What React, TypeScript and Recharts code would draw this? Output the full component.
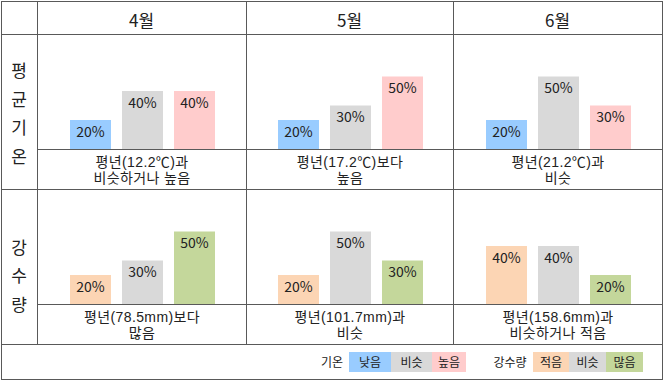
import React from 'react';
import { BarChart, Bar, XAxis, YAxis, Cell, LabelList } from 'recharts';

const months = ['4월', '5월', '6월'];
const tempCategories = ['낮음', '비슷', '높음'];
const precipCategories = ['적음', '비슷', '많음'];
const tempValues = [
  [20, 40, 40],
  [20, 30, 50],
  [20, 50, 30],
];
const precipValues = [
  [20, 30, 50],
  [20, 50, 30],
  [40, 40, 20],
];
const tempCaptions = [
  ['평년(12.2℃)과', '비슷하거나 높음'],
  ['평년(17.2℃)보다', '높음'],
  ['평년(21.2℃)과', '비슷'],
];
const precipCaptions = [
  ['평년(78.5mm)보다', '많음'],
  ['평년(101.7mm)과', '비슷'],
  ['평년(158.6mm)과', '비슷하거나 적음'],
];
const rowLabelTemp = ['평', '균', '기', '온'];
const rowLabelPrecip = ['강', '수', '량'];

const tempColors = ['#99CCFF', '#D9D9D9', '#FFCCCC'];
const precipColors = ['#FCD5B4', '#D9D9D9', '#C4D79B'];

const FONT = '"Noto Sans CJK KR", "Noto Sans", sans-serif';
const CAPFONT = '"Liberation Sans", "Noto Sans CJK KR", sans-serif';
const LINE = '#595959';
const cellLefts = [37, 246, 453, 662];

function Mini({ cats, vals, colors, left, top }: { cats: string[]; vals: number[]; colors: string[]; left: number; top: number }) {
  const data = cats.map((c, i) => ({ name: c, value: vals[i] }));
  return (
    <div style={{ position: 'absolute', left, top, width: 156, height: 116 }}>
      <BarChart width={156} height={116} data={data} margin={{ top: 0, right: 0, bottom: 0, left: 0 }}>
        <XAxis dataKey="name" hide />
        <YAxis hide domain={[0, 80]} />
        <Bar dataKey="value" barSize={41} isAnimationActive={false}>
          {data.map((d, i) => (
            <Cell key={d.name} fill={colors[i]} />
          ))}
          <LabelList
            dataKey="value"
            position="insideTop"
            offset={7}
            formatter={(v: any) => `${v}%`}
            fill="#222"
            fontSize={14}
            fontFamily={FONT}
          />
        </Bar>
      </BarChart>
    </div>
  );
}

function HLine({ x1, x2, y }: { x1: number; x2: number; y: number }) {
  return <div style={{ position: 'absolute', left: x1, top: y, width: x2 - x1 + 1, height: 1, background: LINE }} />;
}
function VLine({ x, y1, y2 }: { x: number; y1: number; y2: number }) {
  return <div style={{ position: 'absolute', left: x, top: y1, width: 1, height: y2 - y1 + 1, background: LINE }} />;
}

function Caption({ lines, cx, cy }: { lines: string[]; cx: number; cy: number }) {
  return (
    <>
      {lines.map((l, i) => (
        <div
          key={l}
          style={{
            position: 'absolute',
            left: cx - 100,
            top: cy - 16 + i * 16,
            width: 200,
            height: 16,
            textAlign: 'center',
            fontSize: 14,
            lineHeight: '16px',
            letterSpacing: 0.4,
            fontFamily: CAPFONT,
            color: '#222',
            whiteSpace: 'nowrap',
          }}
        >
          {l}
        </div>
      ))}
    </>
  );
}

function CharAt({ ch, cx, cy, size }: { ch: string; cx: number; cy: number; size: number }) {
  return (
    <div
      style={{
        position: 'absolute',
        left: cx - 20,
        top: cy - 12,
        width: 40,
        height: 24,
        lineHeight: '24px',
        textAlign: 'center',
        fontSize: size,
        fontFamily: FONT,
        color: '#222',
      }}
    >
      {ch}
    </div>
  );
}

const legendTemp = [
  { x1: 349, x2: 391 },
  { x1: 391, x2: 432 },
  { x1: 432, x2: 466 },
];
const legendPrecip = [
  { x1: 533, x2: 569 },
  { x1: 569, x2: 606 },
  { x1: 606, x2: 643 },
];

function LegendBox({ x1, x2, color, text }: { x1: number; x2: number; color: string; text: string }) {
  return (
    <div
      style={{
        position: 'absolute',
        left: x1,
        top: 352,
        width: x2 - x1,
        height: 20,
        background: color,
        textAlign: 'center',
        lineHeight: '20px',
        fontSize: 12,
        fontFamily: FONT,
        color: '#222',
      }}
    >
      {text}
    </div>
  );
}

export default function App() {
  return (
    <div style={{ position: 'absolute', left: 0, top: 0, width: 665, height: 381, background: '#fff', overflow: 'hidden' }}>
      {months.map((m, i) => {
        const cx = (cellLefts[i] + cellLefts[i + 1]) / 2;
        return (
          <React.Fragment key={m}>
            <div
              style={{
                position: 'absolute',
                left: cx - 60,
                top: 8,
                width: 120,
                height: 24,
                lineHeight: '24px',
                textAlign: 'center',
                fontSize: 17,
                fontFamily: FONT,
                color: '#222',
              }}
            >
              {m}
            </div>
            <Mini cats={tempCategories} vals={tempValues[i]} colors={tempColors} left={cx - 78 + 0.5} top={33} />
            <Mini cats={precipCategories} vals={precipValues[i]} colors={precipColors} left={cx - 78 + 0.5} top={188} />
            <Caption lines={tempCaptions[i]} cx={cx + 0.5} cy={170} />
            <Caption lines={precipCaptions[i]} cx={cx + 0.5} cy={325} />
          </React.Fragment>
        );
      })}
      {rowLabelTemp.map((ch, i) => (
        <CharAt key={'t' + ch} ch={ch} cx={19} cy={70 + i * 28.5} size={17} />
      ))}
      {rowLabelPrecip.map((ch, i) => (
        <CharAt key={'p' + ch} ch={ch} cx={19} cy={247 + i * 28.3} size={17} />
      ))}
      <div style={{ position: 'absolute', left: 316, top: 352, width: 32, height: 20, lineHeight: '20px', fontSize: 12, fontFamily: FONT, color: '#222', textAlign: 'center' }}>기온</div>
      {legendTemp.map((b, i) => (
        <LegendBox key={'lt' + i} x1={b.x1} x2={b.x2} color={tempColors[i]} text={tempCategories[i]} />
      ))}
      <div style={{ position: 'absolute', left: 488, top: 352, width: 44, height: 20, lineHeight: '20px', fontSize: 12, fontFamily: FONT, color: '#222', textAlign: 'center' }}>강수량</div>
      {legendPrecip.map((b, i) => (
        <LegendBox key={'lp' + i} x1={b.x1} x2={b.x2} color={precipColors[i]} text={precipCategories[i]} />
      ))}
      <HLine x1={1} x2={662} y={1} />
      <HLine x1={1} x2={662} y={34} />
      <HLine x1={37} x2={662} y={149} />
      <HLine x1={1} x2={662} y={189} />
      <HLine x1={37} x2={662} y={304} />
      <HLine x1={1} x2={662} y={344} />
      <HLine x1={1} x2={662} y={379} />
      <VLine x={1} y1={1} y2={379} />
      <VLine x={37} y1={1} y2={344} />
      <VLine x={246} y1={1} y2={344} />
      <VLine x={453} y1={1} y2={344} />
      <VLine x={662} y1={1} y2={379} />
    </div>
  );
}
